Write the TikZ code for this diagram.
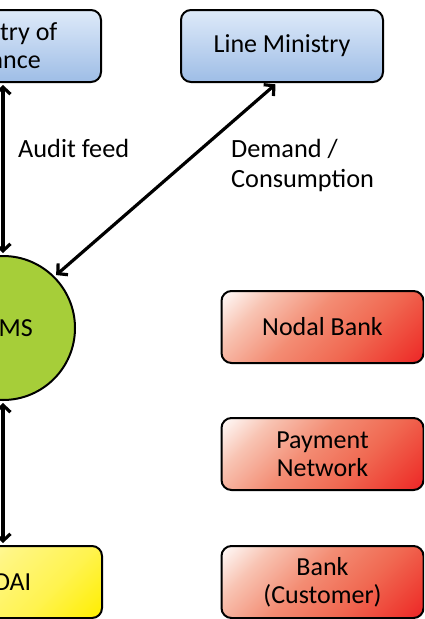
\documentclass[tikz,border=0pt]{standalone}
\usepackage{fontspec}
\setmainfont{Carlito}
\usetikzlibrary{arrows.meta,calc}
\definecolor{bluetop}{RGB}{222,234,249}
\definecolor{bluebot}{RGB}{158,189,230}
\definecolor{redend}{RGB}{236,28,36}
\definecolor{pfmsgreen}{RGB}{166,206,57}
\pgfdeclareverticalshading{redsh}{100bp}{
  color(0bp)=(redend); color(12bp)=(redend);
  color(22bp)=(rgb,255:red,238;green,60;blue,50);
  color(38bp)=(rgb,255:red,240;green,105;blue,82);
  color(55bp)=(rgb,255:red,243;green,140;blue,115);
  color(72bp)=(rgb,255:red,248;green,195;blue,178);
  color(86bp)=(white); color(100bp)=(white)}
\pgfdeclareverticalshading{yelsh}{100bp}{
  color(0bp)=(rgb,255:red,255;green,238;blue,0); color(15bp)=(rgb,255:red,255;green,238;blue,0);
  color(35bp)=(rgb,255:red,255;green,243;blue,80);
  color(55bp)=(rgb,255:red,255;green,246;blue,130);
  color(72bp)=(rgb,255:red,255;green,250;blue,190);
  color(86bp)=(white); color(100bp)=(white)}
\tikzset{
  box/.style={draw=black, line width=2pt, rounded corners=10pt, minimum width=202pt, minimum height=72pt, align=center, font=\fontsize{26}{28}\selectfont, inner sep=0pt},
  bluebox/.style={box, top color=bluetop, bottom color=bluebot},
  redbox/.style={box, shading=redsh, shading angle=45},
  yelbox/.style={box, shading=yelsh, shading angle=45},
  conn/.style={line width=3.2pt, shorten <=2pt, shorten >=2pt, {Straight Barb[length=7pt,width=15pt,line width=3.2pt]}-{Straight Barb[length=7pt,width=15pt,line width=3.2pt]}},
  lbl/.style={font=\fontsize{26.3}{30}\selectfont, align=left, anchor=west, inner sep=0pt}
}
\begin{document}
\begin{tikzpicture}[x=1pt,y=-1pt]
\useasboundingbox (0,0) rectangle (424,619);
\clip (0,0) rectangle (424,619);
\node[bluebox] (fin) at (0,46) {Ministry of\\Finance};
\node[bluebox] (lm) at (282,46) {Line Ministry};
\node[circle, draw=black, line width=2pt, fill=pfmsgreen, minimum size=144pt, inner sep=0pt, font=\fontsize{26}{28}\selectfont] (pfms) at (3,328) {PFMS};
\node[yelbox] (uid) at (1,582) {UIDAI};
\node[redbox] (nb) at (322.5,327) {Nodal Bank};
\node[redbox] (pn) at (322.5,454) {Payment\\Network};
\node[redbox] (bc) at (322.5,582) {Bank\\(Customer)};
\draw[conn] (pfms.north) -- (pfms.north |- fin.south);
\draw[conn] (pfms.45) -- ($(lm.south)+(-5,0)$);
\draw[conn] (pfms.south) -- (pfms.south |- uid.north);
\node[lbl] (af) at (18,148) {Audit feed};
\node[lbl] (dc) at (231,165) {Demand /\\Consumption};
\end{tikzpicture}
\end{document}
